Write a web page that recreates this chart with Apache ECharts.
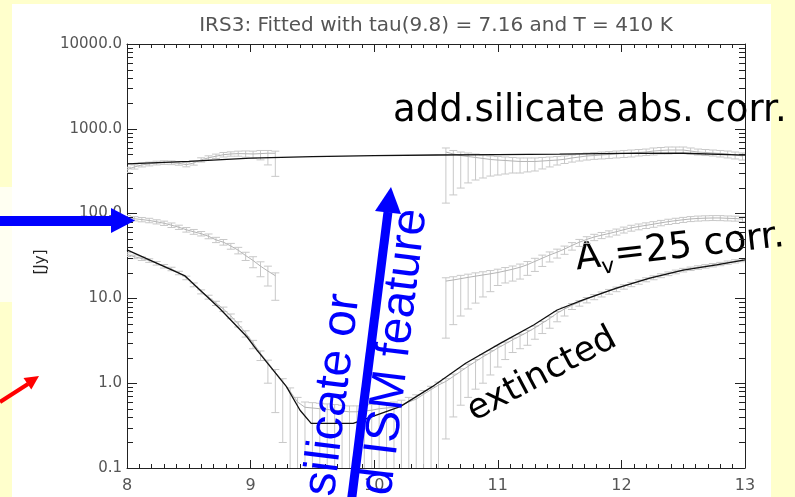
<!DOCTYPE html>
<html><head><meta charset="utf-8">
<script src="https://cdn.jsdelivr.net/npm/echarts@6/dist/echarts.min.js"></script>
<style>html,body{margin:0;padding:0;background:#FFFFCC;} #chart{width:795px;height:497px;}</style>
</head><body><div id="chart"></div>
<script>
// ---------- data ----------
const TITLE = 'IRS3: Fitted with tau(9.8) = 7.16 and T = 410 K';
const Y_TICK_LABELS = ['0.1', '1.0', '10.0', '100.0', '1000.0', '10000.0'];
const X_MIN = 8, X_MAX = 13, Y_MIN = 0.1, Y_MAX = 10000;

const wavelengths = [8.00,8.06,8.12,8.18,8.24,8.30,8.36,8.42,8.48,8.54,8.60,8.66,8.72,8.78,8.84,8.90,8.96,9.02,9.08,9.14,9.20,
  9.26,9.32,9.38,9.44,9.50,9.56,9.62,9.68,9.74,9.80,9.86,9.92,9.98,10.04,10.10,10.16,10.22,10.28,10.34,10.40,10.46,10.52,
  10.58,10.64,10.70,10.76,10.82,10.88,10.94,11.00,11.06,11.12,11.18,11.24,11.30,11.36,11.42,11.48,11.54,11.60,11.66,11.72,
  11.78,11.84,11.90,11.96,12.02,12.08,12.14,12.20,12.26,12.32,12.38,12.44,12.50,12.56,12.62,12.68,12.74,12.80,12.86,12.92,12.98];
const waveLeft = wavelengths.slice(0, 21);
const waveRight = wavelengths.slice(43);

// "add.silicate abs. corr." spectrum
const silFluxLeft  = [330,355,375,385,395,400,398,392,378,395,430,455,475,495,505,510,508,505,510,515,515];
const silErrHiLeft = [22,20,20,20,20,20,20,20,22,22,25,25,28,30,30,35,40,40,45,40,30];
const silErrLoLeft = [25,20,20,20,20,20,20,20,22,22,25,25,28,30,30,35,45,55,80,140,240];
const silFluxRight  = [532,505,484,471,459,447,435,428,423,417,412,412,412,417,423,428,437,453,465,478,484,491,498,505,511,518,525,532,547,555,562,562,562,547,532,525,518,511,505,491,478];
const silErrHiRight = [62,50,48,47,46,44,43,43,42,42,41,41,41,42,42,43,41,38,40,40,41,41,41,42,44,44,45,45,47,47,48,48,48,47,45,45,44,44,42,41,40];
const silErrLoRight = [399,339,284,241,210,184,158,143,130,116,111,102,94,81,68,54,47,48,48,50,48,50,51,52,52,53,47,48,56,50,57,51,51,42,41,41,40,46,52,50,50];

// "Av=25 corr." spectrum
const avFluxLeft  = [90,87,85,83,80,77,73,69,64.5,61,58,54,49,46,41.5,37,32,28,24,21,18.5];
const avErrHiLeft = [5,5,5,5,4.5,4.5,4.5,4,4,4,3.5,3.5,3.5,3.5,3,3,3,3,3,3,1.5];
const avErrLoLeft = [5,5,5,5,4.5,4.5,4.5,4,4,4,3.5,3.5,3.5,3.5,3.5,3.5,4,5,6,7,9];
const avFluxRight  = [16.0,16.5,17.1,17.7,18.3,18.9,19.5,20.2,21.1,22.1,23.3,25.0,27.3,29.8,32.5,35.1,38.2,42.1,46.0,49.6,53.0,55.7,58.3,61.2,64.6,67.9,70.4,72.7,75.1,77.8,80.4,82.6,84.6,86.5,87.7,88.4,88.8,88.8,88.0,87.5,86.0];
const avErrHiRight = [1.5,1.5,1.6,1.6,1.7,1.7,1.8,1.9,2.0,2.0,2.1,2.2,2.4,2.6,2.8,3.0,3.2,3.4,3.6,3.8,4.0,4.2,4.3,4.5,4.7,4.9,5.0,5.1,5.2,5.3,5.4,5.5,5.6,5.7,5.8,5.8,5.9,5.9,5.8,5.8,5.7];
const avErrLoRight = [12.6,11.6,10.9,10.2,9.5,8.5,7.5,6.0,5.9,6.1,6.4,6.3,6.5,6.0,5.6,5.2,5.1,5.0,5.0,5.0,5.0,5.0,5.2,5.4,5.6,5.8,6.0,6.0,6.1,6.0,6.0,6.2,6.0,6.0,6.1,6.0,6.0,6.2,6.0,6.0,6.1];

// "extincted" spectrum (continuous)
const extFlux = [33,31,29.5,28,26,24,22.3,20,17.5,14.5,12.0,10.4,8.8,7.5,6.2,5.0,3.9,3.0,2.25,1.75,1.35,1.05,0.8,0.6,0.52,0.51,0.50,0.49,0.48,0.47,0.46,0.46,0.47,0.48,0.50,0.51,0.52,0.55,0.60,
  0.65,0.74,0.84,0.95,1.05,1.2,1.38,1.58,1.8,2.05,2.3,2.6,2.9,3.25,3.6,4.0,4.5,5.1,5.8,6.7,7.5,8.3,9.0,9.8,10.6,11.4,12.2,13.0,13.9,14.8,15.8,16.8,17.7,18.7,19.7,20.7,21.7,22.5,23.3,24.0,24.8,25.6,26.5,27.5,28.4];
const extErrHi = [1.5,1.4,1.3,1.3,1.2,1.1,1.0,0.9,0.8,0.7,0.6,0.5,0.45,0.4,0.35,0.3,
  0.25,0.2,0.15,0.12,0.1,0.08,
  0.08,0.08,0.08,0.08,0.08,0.08,0.08,0.08,0.08,0.08,0.08,0.08,0.08,0.08,0.08,0.08,0.08,0.08,0.08,0.08,0.08,
  0.08,0.08,0.1,0.1,0.1,0.12,0.12,0.14,0.15,0.16,0.18,0.2,0.22,0.25,0.28,0.3,0.35,
  0.4,0.4,0.45,0.5,0.5,0.55,0.6,0.6,0.65,0.7,0.7,0.75,0.8,0.8,0.85,0.9,0.9,0.95,1.0,1.0,1.0,1.1,1.1,1.1];
const extErrLo = [1.8,1.6,1.5,1.4,1.3,1.2,1.1,1.0,0.9,0.8,0.7,0.6,0.55,0.5,0.45,0.4,
  0.4,0.45,0.4,0.75,0.9,0.85,
  0.8,0.6,0.52,0.51,0.50,0.49,0.48,0.47,0.46,0.46,0.47,0.48,0.50,0.51,0.52,0.55,0.60,0.65,0.74,0.84,0.95,
  0.83,0.8,0.83,0.9,0.95,1.05,1.05,1.05,1.0,0.95,1.05,1.2,1.2,1.25,1.35,1.4,1.3,
  0.9,0.9,0.95,0.95,1.0,1.0,1.0,1.05,1.05,1.1,1.1,1.1,1.15,1.15,1.2,1.2,1.2,1.25,1.25,1.3,1.3,1.3,1.35,1.35];

// fitted model curves (black)
const fitWaveSil = [8.0,8.5,9.0,9.5,10.0,10.5,11.0,11.5,12.0,12.5,13.0];
const fitFluxSil = [385,412,450,470,482,491,495,502,514,515,490];
const fitWaveExt = [8.00,8.47,8.75,8.97,9.05,9.29,9.40,9.49,9.83,10.21,10.47,10.74,11.02,11.29,11.48,11.69,11.96,12.23,12.50,12.77,13.00];
const fitFluxExt = [37.3,18.4,7.6,3.53,2.47,0.91,0.48,0.336,0.336,0.53,0.91,1.72,2.95,4.85,7.3,9.6,13.2,17.3,21.6,24.8,28.4];

// ---------- styles ----------
const AXIS_C = '#222', LABEL_C = '#555', ERR_C = '#c8c8c8', DATA_C = '#b4b4b4', FIT_C = '#111';
const FONT = '"DejaVu Sans", sans-serif';

function pairs(xs, ys) { return xs.map((x, i) => [x, ys[i]]); }
function errRows(xs, v, hi, lo) {
  return xs.map((x, i) => {
    const low = v[i] - lo[i];
    return [x, Math.max(low, Y_MIN), v[i] + hi[i], low > Y_MIN ? 1 : 0];
  });
}
const errData = [].concat(
  errRows(waveLeft, silFluxLeft, silErrHiLeft, silErrLoLeft),
  errRows(waveRight, silFluxRight, silErrHiRight, silErrLoRight),
  errRows(waveLeft, avFluxLeft, avErrHiLeft, avErrLoLeft),
  errRows(waveRight, avFluxRight, avErrHiRight, avErrLoRight),
  errRows(wavelengths, extFlux, extErrHi, extErrLo)
);

const minorVals = [];
for (let e = -1; e < 4; e++) for (let m = 2; m <= 9; m++) minorVals.push([X_MIN, m * Math.pow(10, e)]);

function renderErr(params, api) {
  const x = api.value(0), lo = api.value(1), hi = api.value(2), capLo = api.value(3);
  const p1 = api.coord([x, lo]), p2 = api.coord([x, hi]);
  const w = 4, st = { stroke: ERR_C, lineWidth: 1 };
  const ch = [
    { type: 'line', shape: { x1: p1[0], y1: p1[1], x2: p2[0], y2: p2[1] }, style: st },
    { type: 'line', shape: { x1: p2[0] - w, y1: p2[1], x2: p2[0] + w, y2: p2[1] }, style: st }
  ];
  if (capLo) ch.push({ type: 'line', shape: { x1: p1[0] - w, y1: p1[1], x2: p1[0] + w, y2: p1[1] }, style: st });
  return { type: 'group', children: ch };
}
function renderMinor(params, api) {
  const p = api.coord([api.value(0), api.value(1)]);
  const cs = params.coordSys;
  const y = Math.round(p[1]) + 0.5;
  const st = { stroke: AXIS_C, lineWidth: 1 };
  return { type: 'group', children: [
    { type: 'line', shape: { x1: cs.x, y1: y, x2: cs.x + 6, y2: y }, style: st },
    { type: 'line', shape: { x1: cs.x + cs.width - 6, y1: y, x2: cs.x + cs.width, y2: y }, style: st }
  ]};
}

function xAxisDef(pos, showLabel) {
  return {
    type: 'value', position: pos, min: X_MIN, max: X_MAX, interval: 1,
    axisLine: { show: true, onZero: false, lineStyle: { color: AXIS_C, width: 1 } },
    axisTick: { show: true, inside: true, length: 8, lineStyle: { color: AXIS_C } },
    minorTick: { show: true, splitNumber: 10, length: 4, lineStyle: { color: AXIS_C } },
    splitLine: { show: false }, minorSplitLine: { show: false },
    axisLabel: { show: showLabel, color: LABEL_C, fontSize: 16, fontFamily: FONT, margin: 10 }
  };
}
function yAxisDef(pos, showLabel) {
  return {
    type: 'log', logBase: 10, position: pos, min: Y_MIN, max: Y_MAX,
    axisLine: { show: true, onZero: false, lineStyle: { color: AXIS_C, width: 1 } },
    axisTick: { show: true, inside: true, length: 10, lineStyle: { color: AXIS_C } },
    splitLine: { show: false },
    axisLabel: { show: showLabel, color: LABEL_C, fontSize: 15, fontFamily: FONT, margin: 5,
      formatter: v => { const e = Math.round(Math.log10(v)) + 1; return Y_TICK_LABELS[e] || ''; } }
  };
}

const deg = Math.PI / 180;
const option = {
  animation: false,
  backgroundColor: '#FFFFCC',
  grid: { left: 127, right: 50, top: 44, bottom: 29 },
  xAxis: [xAxisDef('bottom', true), xAxisDef('top', false)],
  yAxis: [yAxisDef('left', true), yAxisDef('right', false)],
  series: [
    { type: 'custom', name: 'minorTicks', renderItem: renderMinor, data: minorVals, silent: true, clip: false, z: 5 },
    { type: 'custom', name: 'errors', renderItem: renderErr, data: errData, encode: { x: 0, y: [1, 2] }, silent: true, clip: true, z: 2 },
    { type: 'line', data: pairs(waveLeft, silFluxLeft), showSymbol: false, symbol: 'none', lineStyle: { color: DATA_C, width: 1 }, z: 3 },
    { type: 'line', data: pairs(waveRight, silFluxRight), showSymbol: false, symbol: 'none', lineStyle: { color: DATA_C, width: 1 }, z: 3 },
    { type: 'line', data: pairs(waveLeft, avFluxLeft), showSymbol: false, symbol: 'none', lineStyle: { color: DATA_C, width: 1 }, z: 3 },
    { type: 'line', data: pairs(waveRight, avFluxRight), showSymbol: false, symbol: 'none', lineStyle: { color: DATA_C, width: 1 }, z: 3 },
    { type: 'line', data: pairs(wavelengths, extFlux), showSymbol: false, symbol: 'none', lineStyle: { color: DATA_C, width: 1 }, z: 3 },
    { type: 'line', data: pairs(fitWaveSil, fitFluxSil), showSymbol: false, symbol: 'none', lineStyle: { color: FIT_C, width: 1.3 }, z: 4 },
    { type: 'line', data: pairs(fitWaveExt, fitFluxExt), showSymbol: false, symbol: 'none', lineStyle: { color: FIT_C, width: 1.3 }, z: 4 }
  ],
  graphic: [
    { type: 'rect', z: -10, silent: true, shape: { x: 12, y: 4, width: 759, height: 493 }, style: { fill: '#ffffff' } },
    { type: 'rect', z: -10, silent: true, shape: { x: 0, y: 187, width: 12, height: 115 }, style: { fill: '#FFFFF2' } },
    { type: 'text', z: 50, x: 436, y: 26, style: { text: TITLE, font: '20px ' + FONT, fill: LABEL_C, align: 'center', verticalAlign: 'middle' } },
    { type: 'text', z: 50, x: 41, y: 262, rotation: 90 * deg, style: { text: '[Jy]', font: '15px ' + FONT, fill: '#222', align: 'center', verticalAlign: 'middle' } },
    { type: 'text', z: 50, x: 393, y: 111, style: { text: 'add.silicate abs. corr.', font: '37px ' + FONT, fill: '#000', align: 'left', verticalAlign: 'middle' } },
    { type: 'group', z: 50, x: 577, y: 272, rotation: 6.5 * deg, children: [
      { type: 'text', x: 0, y: -12, style: { text: 'A', font: '37px ' + FONT, fill: '#000', align: 'left', verticalAlign: 'middle' } },
      { type: 'text', x: 25, y: -1, style: { text: 'v', font: '22px ' + FONT, fill: '#000', align: 'left', verticalAlign: 'middle' } },
      { type: 'text', x: 39, y: -12, style: { text: '=25 corr.', font: '37px ' + FONT, fill: '#000', align: 'left', verticalAlign: 'middle' } }
    ]},
    { type: 'text', z: 50, x: 542, y: 375, rotation: 28 * deg, style: { text: 'extincted', font: '35px ' + FONT, fill: '#000', align: 'center', verticalAlign: 'middle' } },
    { type: 'text', z: 50, x: 333, y: 395, rotation: 83 * deg, style: { text: 'silicate or', font: '48px "Liberation Sans", sans-serif', fill: '#0000FF', align: 'center', verticalAlign: 'middle' } },
    { type: 'text', z: 50, x: 395, y: 352, rotation: 83 * deg, style: { text: 'd ISM feature', font: '48px "Liberation Sans", sans-serif', fill: '#0000FF', align: 'center', verticalAlign: 'middle' } },
    // vertical blue arrow
    { type: 'line', z: 51, shape: { x1: 351.5, y1: 500, x2: 388, y2: 212 }, style: { stroke: '#0000FF', lineWidth: 9 } },
    { type: 'polygon', z: 51, shape: { points: [[391, 187], [401, 214], [375, 211]] }, style: { fill: '#0000FF' } },
    // horizontal blue arrow
    { type: 'line', z: 51, shape: { x1: 0, y1: 221, x2: 113, y2: 221 }, style: { stroke: '#0000FF', lineWidth: 10 } },
    { type: 'polygon', z: 51, shape: { points: [[111, 208], [135, 220.5], [111, 233]] }, style: { fill: '#0000FF' } },
    // red arrow
    { type: 'line', z: 51, shape: { x1: 0, y1: 402, x2: 28, y2: 384 }, style: { stroke: '#FF0000', lineWidth: 4 } },
    { type: 'polygon', z: 51, shape: { points: [[39, 376], [31.3, 389.6], [23.5, 378]] }, style: { fill: '#FF0000' } }
  ]
};

const chart = echarts.init(document.getElementById('chart'), null, { renderer: 'canvas' });
chart.setOption(option);
</script>
</body></html>
